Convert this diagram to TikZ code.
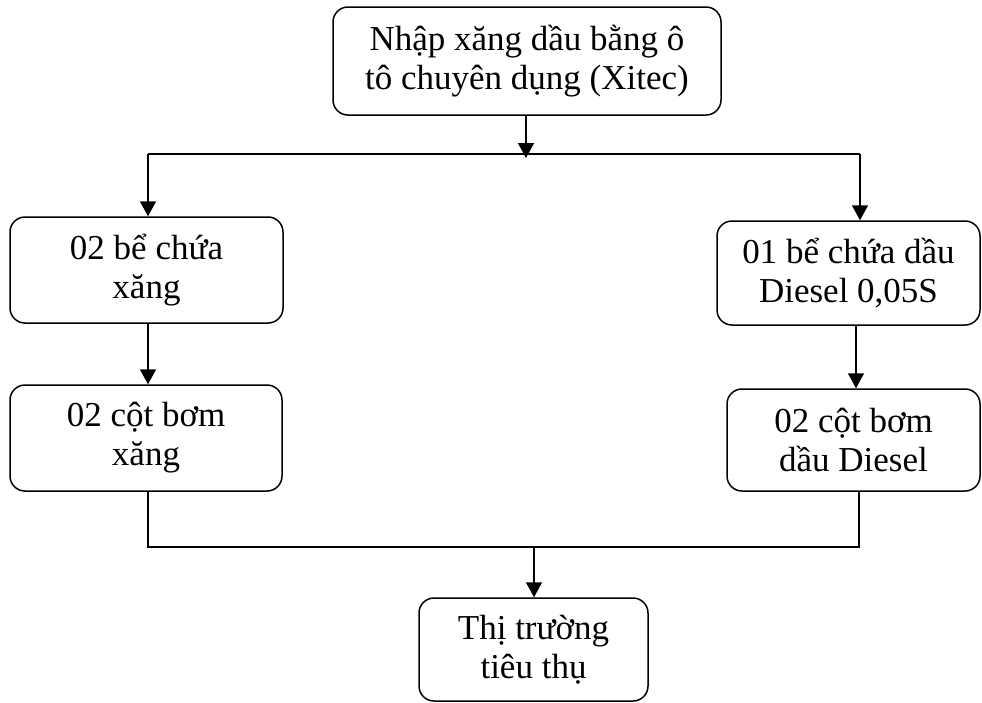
\documentclass[tikz,border=0pt]{standalone}
\usepackage{fontspec}
\setmainfont{Liberation Serif}
\usetikzlibrary{arrows.meta}
\begin{document}
\begin{tikzpicture}[x=1pt,y=-1pt,
  box/.style={draw, line width=1.5pt, rounded corners=15pt, align=center,
    inner sep=0pt, font=\fontsize{35}{39}\selectfont},
  conn/.style={line width=1.5pt},
  arr/.style={conn, -{Triangle[width=16pt,length=15pt]}}]
\useasboundingbox (0,0) rectangle (982,702);
\node[box, minimum width=388pt, minimum height=108pt] (top) at (527,61) {Nhập xăng dầu bằng ô\\tô chuyên dụng (Xitec)};
\node[box, minimum width=273pt, minimum height=106pt] (l1) at (146.5,270) {02 bể chứa\\xăng};
\node[box, minimum width=272pt, minimum height=106pt] (l2) at (146,438) {02 cột bơm\\xăng};
\node[box, minimum width=263pt, minimum height=104pt] (r1) at (848.5,273) {01 bể chứa dầu\\Diesel 0,05S};
\node[box, minimum width=253pt, minimum height=102pt] (r2) at (853.5,440) {02 cột bơm\\dầu Diesel};
\node[box, minimum width=229pt, minimum height=103pt] (bot) at (533.5,649.5) {Thị trường\\tiêu thụ};
\coordinate (tl) at (148,154);
\coordinate (tr) at (860,154);
\coordinate (tm) at (526,158);
\coordinate (bl) at (148,547);
\coordinate (br) at (859,547);
\coordinate (bm) at (534,547);
\draw[conn] (tl) -- (tr);
\draw[arr] (top.south -| tm) -- (tm);
\draw[arr] (tl) -- (tl |- l1.north);
\draw[arr] (tr) -- (tr |- r1.north);
\draw[arr] (l1.south -| 148,0) -- (l2.north -| 148,0);
\draw[arr] (r1.south -| 856,0) -- (r2.north -| 856,0);
\draw[conn] (l2.south -| bl) -- (bl) -- (br) -- (r2.south -| br);
\draw[arr] (bm) -- (bm |- bot.north);
\end{tikzpicture}
\end{document}
